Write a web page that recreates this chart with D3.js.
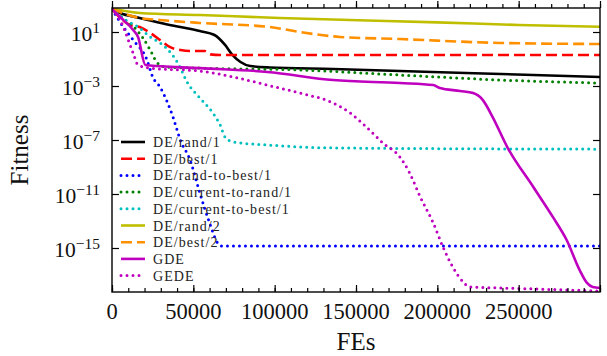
<!DOCTYPE html>
<html>
<head>
<meta charset="utf-8">
<script src="https://cdn.jsdelivr.net/npm/d3@7"></script>
<style>
  body { margin: 0; background: #fff; }
  svg { font-family: "Liberation Serif", "DejaVu Serif", serif; }
  .axis path { display: none; }
  .axis line { stroke: #000; stroke-width: 1.2; }
</style>
</head>
<body>
<div class="chart"></div>
<script>
// convergence curves, fitness vs function evaluations
var names = ["DE/rand/1", "DE/best/1", "DE/rand-to-best/1", "DE/current-to-rand/1",
  "DE/current-to-best/1", "DE/rand/2", "DE/best/2", "GDE", "GEDE"];

var randFes = [0, 5000, 17000, 30000, 42000, 54000, 63000, 69500, 74000, 79000, 85000, 97000, 136000, 197000, 259000, 300000];
var randFit = [500, 257, 110, 46.8, 23.4, 11.7, 6.0, 1.1, 0.2, 0.06, 0.03, 0.0234, 0.0182, 0.011, 0.0065, 0.0047];

var bestFes = [0, 11000, 17000, 23500, 29500, 35500, 42000, 48000, 57000, 60500, 66500, 300000];
var bestFit = [500, 33.1, 23.4, 8.5, 2.57, 0.78, 0.47, 0.39, 0.39, 0.22, 0.2, 0.2];

var rtbFes = [0, 7000, 13000, 21500, 25000, 29500, 37500, 42000, 48000, 54000, 60000, 65000, 67500, 300000];
var rtbFit = [500, 23.4, 2.57, 0.085, 4.7e-3, 8.5e-4, 5.0e-6, 1e-7, 3.3e-9, 1.2e-11, 7.1e-14, 2.3e-15, 1.4e-15, 1.4e-15];

var ctrFes = [0, 8000, 14000, 19000, 23500, 27500, 32500, 54000, 115500, 177000, 238500, 300000];
var ctrFit = [500, 77.6, 20, 3.63, 0.47, 0.06, 0.026, 0.021, 0.0155, 0.0065, 0.0028, 0.00166];

var ctbFes = [0, 8000, 17000, 23500, 29500, 34500, 40500, 46500, 54000, 62000, 66500, 69500, 74500, 95500, 136000, 300000];
var ctbFit = [500, 85, 20, 4.3, 1.55, 0.47, 0.05, 1.66e-3, 1.29e-4, 1e-5, 1.29e-6, 1.66e-7, 7.1e-8, 4.3e-8, 2.6e-8, 2.1e-8];

var rand2Fes = [0, 17000, 54000, 103000, 146000, 200000, 250000, 300000];
var rand2Fit = [560, 257, 182, 110, 78, 52, 33, 24.5];

var best2Fes = [0, 5000, 17000, 29500, 54000, 97000, 115500, 140000, 177000, 238500, 300000];
var best2Fit = [560, 302, 110, 78, 47, 23.4, 10, 4.3, 3.0, 1.55, 1.29];

var gdeFes = [0, 5000, 13000, 16000, 20500, 54000, 95500, 136000, 177000, 197500, 201500, 214000, 222000, 228000, 234000, 243000, 259000, 271000, 279500, 287500, 292000, 295500, 300000];
var gdeFit = [500, 129, 14.1, 4.3, 0.036, 0.021, 0.011, 2.75e-3, 1.66e-3, 1.17e-3, 7.1e-4, 4.3e-4, 3.0e-4, 9.1e-5, 5.0e-6, 3.0e-8, 3.3e-11, 2.0e-13, 3.9e-15, 2.3e-17, 2.6e-18, 1.3e-18, 1.1e-18];

var gedeFes = [0, 7000, 10000, 13000, 16000, 23500, 54000, 74500, 95500, 115500, 136000, 146500, 157000, 166500, 177000, 183000, 189500, 197500, 203500, 209500, 216000, 220000, 238500, 279500, 300000];
var gedeFit = [500, 23.4, 2.57, 0.275, 0.036, 0.021, 0.0129, 4.7e-3, 1.17e-3, 3.0e-4, 5.5e-5, 1e-5, 7.8e-7, 6.0e-8, 5.5e-9, 3.6e-10, 6.0e-12, 7.1e-14, 1.17e-15, 3.9e-17, 3.0e-18, 1.3e-18, 1.1e-18, 7.8e-19, 6.5e-19];

var xMajor = [0, 50000, 100000, 150000, 200000, 250000, 300000];
var xLabels = [0, 50000, 100000, 150000, 200000, 250000];
var yTicks = [1e1, 1e-3, 1e-7, 1e-11, 1e-15];
var yExps = ["1", "\u22123", "\u22127", "\u221211", "\u221215"];

(function() {
  'use strict';

  var width = 607, height = 356;
  var margin = {top: 8, right: 7, bottom: 64, left: 112};
  var w = width - margin.left - margin.right,
      h = height - margin.top - margin.bottom;

  var svg = d3.select(".chart").append("svg")
    .attr("width", width)
    .attr("height", height);

  var g = svg.append("g")
    .attr("transform", "translate(" + margin.left + "," + margin.top + ")");

  var x = d3.scaleLinear().domain([0, 300000]).range([0, w]);
  var y = d3.scaleLog().domain([5.5e-19, 600]).range([h, 0]);

  var series = [
    {fes: randFes, fit: randFit, color: "#000000", dash: null},
    {fes: bestFes, fit: bestFit, color: "#ff0000", dash: "11,5"},
    {fes: rtbFes, fit: rtbFit, color: "#0000ff", dash: "dot"},
    {fes: ctrFes, fit: ctrFit, color: "#008000", dash: "dot"},
    {fes: ctbFes, fit: ctbFit, color: "#00bfbf", dash: "dot"},
    {fes: rand2Fes, fit: rand2Fit, color: "#bfbf00", dash: null},
    {fes: best2Fes, fit: best2Fit, color: "#ff9000", dash: "11,5"},
    {fes: gdeFes, fit: gdeFit, color: "#bf00bf", dash: null},
    {fes: gedeFes, fit: gedeFit, color: "#bf00bf", dash: "dot"}
  ];

  function styleLine(sel, s) {
    sel.attr("fill", "none")
      .attr("stroke", s.color);
    if (s.dash === "dot") {
      sel.attr("stroke-width", 3)
        .attr("stroke-linecap", "round")
        .attr("stroke-dasharray", "0,6");
    } else {
      sel.attr("stroke-width", 2.6);
      if (s.dash) sel.attr("stroke-dasharray", s.dash);
    }
  }

  g.append("clipPath").attr("id", "clip")
    .append("rect").attr("width", w).attr("height", h);

  var line = d3.line()
    .x(function(d) { return x(d[0]); })
    .y(function(d) { return y(d[1]); })
    .curve(d3.curveMonotoneX);

  var plot = g.append("g").attr("clip-path", "url(#clip)");
  series.forEach(function(s) {
    var pts = s.fes.map(function(f, i) { return [f, s.fit[i]]; });
    plot.append("path")
      .datum(pts)
      .attr("d", line)
      .call(styleLine, s);
  });

  // ticks inward on all four sides
  var minor = d3.range(0, 300001, 10000);
  [["bottom", h], ["top", 0]].forEach(function(p) {
    var ax = p[0] === "bottom" ? d3.axisBottom : d3.axisTop;
    var sz = p[0] === "bottom" ? -1 : 1;
    g.append("g").attr("class", "axis")
      .attr("transform", "translate(0," + p[1] + ")")
      .call(ax(x).tickValues(minor).tickSize(4 * sz).tickFormat(""));
    g.append("g").attr("class", "axis")
      .attr("transform", "translate(0," + p[1] + ")")
      .call(ax(x).tickValues(xMajor).tickSize(7 * sz).tickFormat(""));
  });
  g.append("g").attr("class", "axis")
    .call(d3.axisLeft(y).tickValues(yTicks).tickSize(-7).tickFormat(""));
  g.append("g").attr("class", "axis")
    .attr("transform", "translate(" + w + ",0)")
    .call(d3.axisRight(y).tickValues(yTicks).tickSize(-7).tickFormat(""));

  g.append("rect")
    .attr("width", w).attr("height", h)
    .attr("fill", "none").attr("stroke", "#000").attr("stroke-width", 1.4);

  // tick labels
  g.selectAll(".xlab")
    .data(xLabels)
    .enter().append("text")
    .attr("class", "xlab")
    .attr("x", function(d) { return x(d); })
    .attr("y", h + 27)
    .attr("text-anchor", "middle")
    .attr("font-size", 22.5)
    .attr("fill", "#111")
    .text(function(d) { return d; });

  var ylab = g.selectAll(".ylab")
    .data(yTicks)
    .enter().append("text")
    .attr("class", "ylab")
    .attr("x", -12)
    .attr("y", function(d) { return y(d) + 9; })
    .attr("text-anchor", "end")
    .attr("font-size", 21.5)
    .attr("fill", "#111");
  ylab.append("tspan").text("10");
  ylab.append("tspan")
    .attr("dy", -8)
    .attr("font-size", 15.5)
    .text(function(d, i) { return yExps[i]; });

  svg.append("text")
    .attr("x", margin.left + w / 2)
    .attr("y", 350)
    .attr("text-anchor", "middle")
    .attr("font-size", 25)
    .attr("fill", "#111")
    .text("FEs");

  svg.append("text")
    .attr("transform", "translate(28," + (margin.top + h / 2) + ") rotate(-90)")
    .attr("text-anchor", "middle")
    .attr("font-size", 25)
    .attr("fill", "#111")
    .text("Fitness");

  // legend, no frame
  var legend = svg.append("g")
    .attr("transform", "translate(120,142)");
  var row = legend.selectAll(".row")
    .data(series)
    .enter().append("g")
    .attr("class", "row")
    .attr("transform", function(d, i) { return "translate(0," + (i * 16.7) + ")"; });
  row.append("line")
    .attr("x1", 1).attr("x2", 25)
    .each(function(s) { d3.select(this).call(styleLine, s); });
  row.append("text")
    .attr("x", 33)
    .attr("y", 5)
    .attr("font-size", 14)
    .attr("letter-spacing", 1.05)
    .attr("fill", "#222")
    .text(function(d, i) { return names[i]; });
})();
</script>
</body>
</html>
